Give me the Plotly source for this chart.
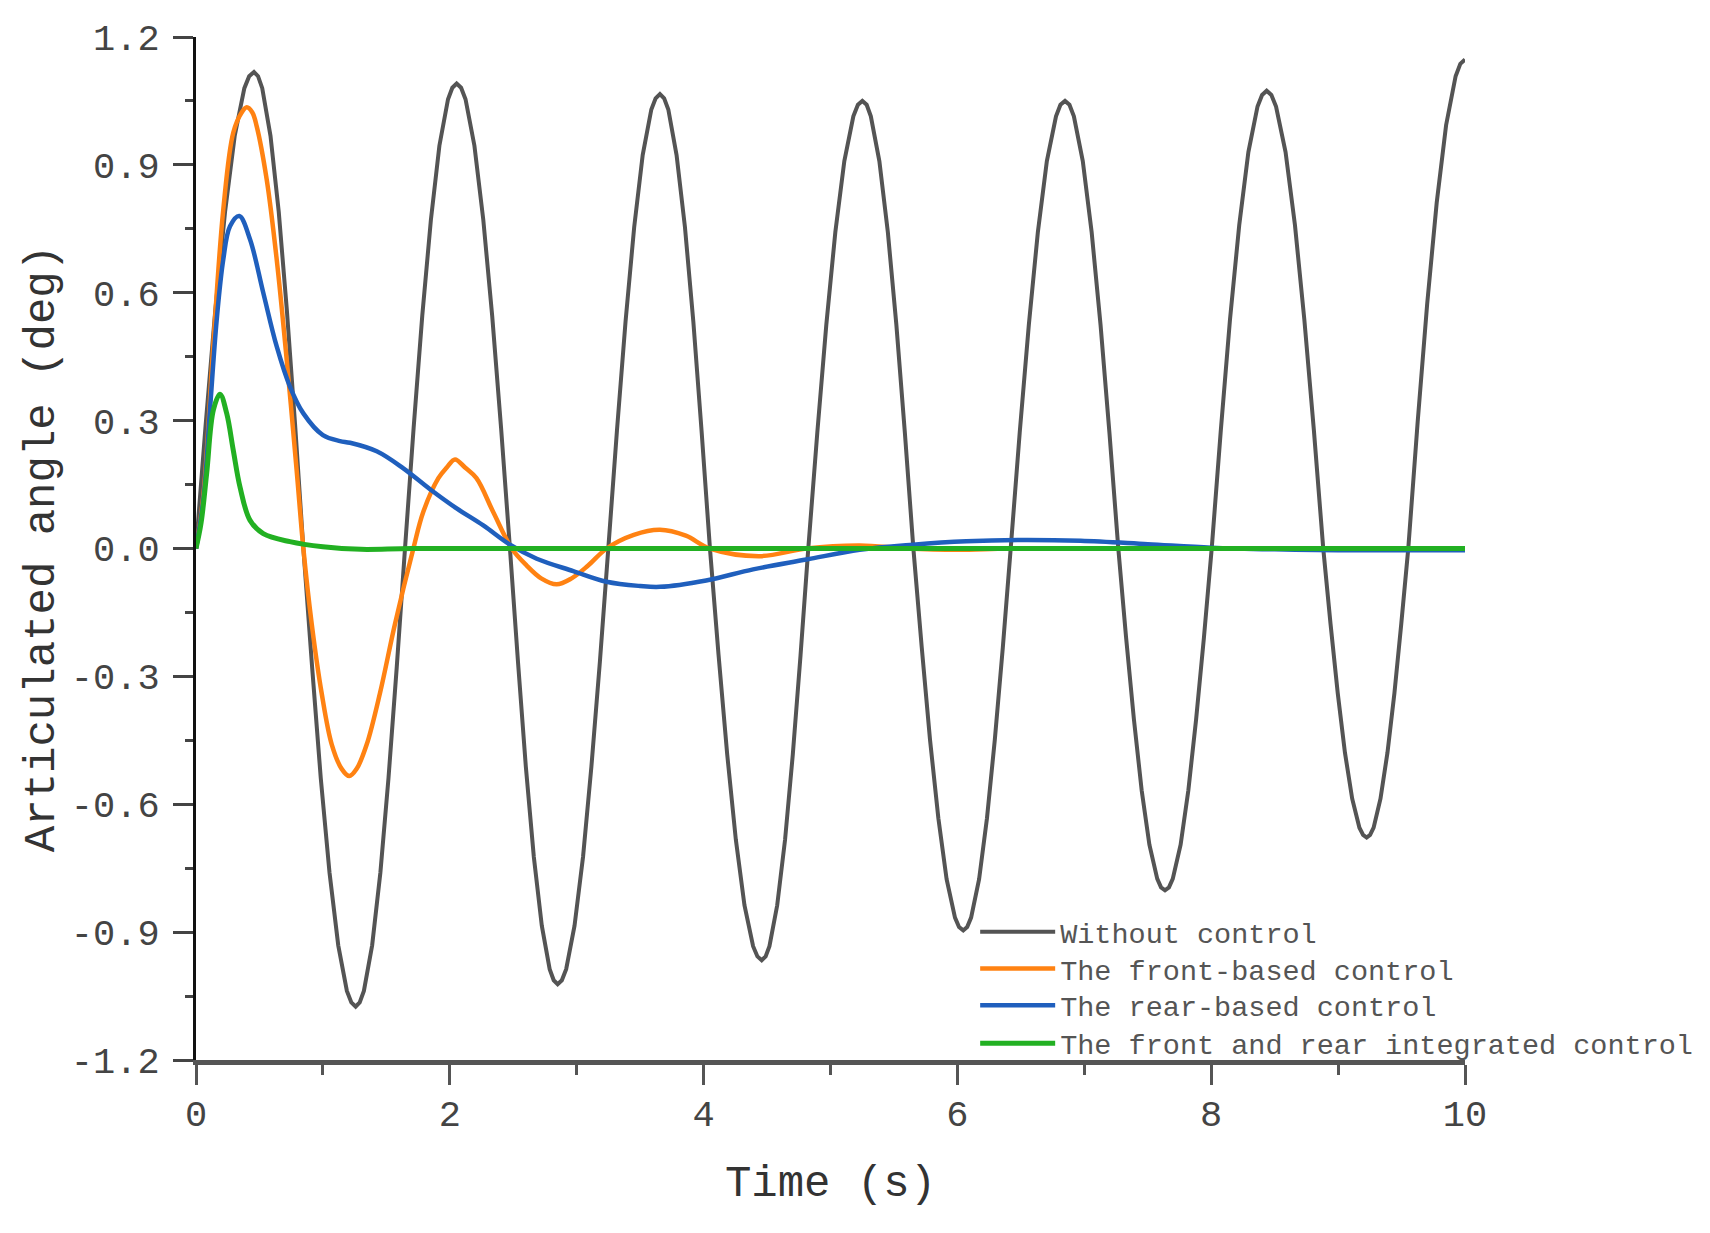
import plotly.graph_objects as go

# Time (s) and articulated angle (deg)
t_without = [0.000, 0.076, 0.152, 0.229, 0.305, 0.381, 0.419, 0.457, 0.489,
             0.522, 0.587, 0.652, 0.716, 0.781, 0.846,
             0.915, 0.983, 1.052, 1.121, 1.189, 1.224, 1.258, 1.290,
             1.323, 1.388, 1.453, 1.517, 1.582, 1.647,
             1.715, 1.783, 1.851, 1.918, 1.986, 2.020, 2.054, 2.089,
             2.124, 2.194, 2.264, 2.334, 2.404, 2.474,
             2.537, 2.599, 2.662, 2.725, 2.787, 2.819, 2.850, 2.883,
             2.917, 2.983, 3.050, 3.116, 3.183, 3.249,
             3.317, 3.385, 3.453, 3.520, 3.588, 3.622, 3.656, 3.689,
             3.722, 3.787, 3.853, 3.919, 3.984, 4.050,
             4.118, 4.186, 4.254, 4.322, 4.390, 4.424, 4.458, 4.489,
             4.519, 4.580, 4.642, 4.703, 4.764, 4.825,
             4.896, 4.967, 5.038, 5.109, 5.180, 5.216, 5.251, 5.285,
             5.318, 5.385, 5.452, 5.519, 5.586, 5.653,
             5.719, 5.784, 5.850, 5.915, 5.981, 6.013, 6.046, 6.077,
             6.108, 6.171, 6.233, 6.295, 6.358, 6.420,
             6.491, 6.563, 6.634, 6.705, 6.777, 6.812, 6.848, 6.883,
             6.918, 6.988, 7.058, 7.128, 7.198, 7.268,
             7.329, 7.391, 7.452, 7.513, 7.575, 7.605, 7.636, 7.667,
             7.697, 7.759, 7.820, 7.881, 7.943, 8.004,
             8.076, 8.148, 8.221, 8.293, 8.365, 8.401, 8.437, 8.474,
             8.511, 8.586, 8.660, 8.734, 8.809, 8.883,
             8.940, 8.997, 9.054, 9.111, 9.168, 9.197, 9.225, 9.252,
             9.280, 9.334, 9.389, 9.444, 9.498, 9.553,
             9.627, 9.702, 9.777, 9.851, 9.926, 9.963, 10.000]
y_without = [0.000, 0.290, 0.559, 0.790, 0.968, 1.080, 1.108, 1.118, 1.108,
             1.080, 0.968, 0.790, 0.559, 0.290, 0.000,
             -0.278, -0.538, -0.760, -0.931, -1.038, -1.065, -1.075, -1.065,
             -1.038, -0.931, -0.760, -0.538, -0.278, 0.000,
             0.283, 0.546, 0.771, 0.945, 1.054, 1.081, 1.091, 1.081,
             1.054, 0.945, 0.771, 0.546, 0.283, 0.000,
             -0.265, -0.511, -0.723, -0.885, -0.987, -1.013, -1.022, -1.013,
             -0.987, -0.885, -0.723, -0.511, -0.265, 0.000,
             0.276, 0.533, 0.754, 0.923, 1.030, 1.056, 1.066, 1.056,
             1.030, 0.923, 0.754, 0.533, 0.276, 0.000,
             -0.250, -0.483, -0.683, -0.837, -0.933, -0.957, -0.966, -0.957,
             -0.933, -0.837, -0.683, -0.483, -0.250, 0.000,
             0.272, 0.525, 0.742, 0.909, 1.014, 1.041, 1.050, 1.041,
             1.014, 0.909, 0.742, 0.525, 0.272, 0.000,
             -0.232, -0.448, -0.633, -0.776, -0.866, -0.888, -0.896, -0.888,
             -0.866, -0.776, -0.633, -0.448, -0.232, 0.000,
             0.272, 0.525, 0.742, 0.909, 1.014, 1.041, 1.050, 1.041,
             1.014, 0.909, 0.742, 0.525, 0.272, 0.000,
             -0.208, -0.401, -0.567, -0.695, -0.775, -0.795, -0.802, -0.795,
             -0.775, -0.695, -0.567, -0.401, -0.208, 0.000,
             0.278, 0.537, 0.759, 0.930, 1.037, 1.064, 1.074, 1.064,
             1.037, 0.930, 0.759, 0.537, 0.278, 0.000,
             -0.176, -0.339, -0.479, -0.587, -0.655, -0.672, -0.678, -0.672,
             -0.655, -0.587, -0.479, -0.339, -0.176, 0.000,
             0.297, 0.574, 0.811, 0.993, 1.108, 1.137, 1.147]

t_front = [0.000, 0.060, 0.137, 0.215, 0.294, 0.360, 0.400, 0.444, 0.478, 0.557,
           0.636, 0.715, 0.793, 0.846, 0.912, 0.990, 1.070, 1.148, 1.208, 1.266,
           1.345, 1.450, 1.568, 1.713, 1.790, 1.910, 1.976, 2.041, 2.120, 2.210,
           2.343, 2.488, 2.606, 2.720, 2.842, 2.960, 3.090, 3.236, 3.450, 3.656,
           3.860, 4.050, 4.440, 4.810, 5.230, 5.600, 6.000, 6.400, 7.000, 8.000,
           9.000, 10.000]
y_front = [0.000, 0.130, 0.482, 0.795, 0.976, 1.023, 1.035, 1.023, 0.991, 0.866,
           0.678, 0.442, 0.184, 0.000, -0.177, -0.339, -0.460, -0.517, -0.534, -0.517,
           -0.460, -0.339, -0.177, 0.000, 0.085, 0.165, 0.190, 0.209, 0.190, 0.165,
           0.085, 0.000, -0.040, -0.070, -0.084, -0.070, -0.040, 0.000, 0.032, 0.044,
           0.030, 0.000, -0.018, 0.000, 0.007, 0.000, -0.003, 0.000, 0.000, 0.000,
           0.000, 0.000]

t_rear = [0.000, 0.060, 0.110, 0.163, 0.215, 0.268, 0.341, 0.426, 0.530, 0.636,
          0.740, 0.846, 1.000, 1.135, 1.214, 1.424, 1.634, 1.844, 2.054, 2.264,
          2.474, 2.685, 2.973, 3.236, 3.500, 3.656, 4.020, 4.390, 4.810, 5.230,
          5.650, 6.070, 6.490, 6.970, 7.500, 8.000, 8.500, 9.000, 10.000]
y_rear = [0.000, 0.120, 0.325, 0.536, 0.678, 0.756, 0.780, 0.725, 0.600, 0.474,
          0.380, 0.317, 0.266, 0.252, 0.248, 0.228, 0.188, 0.139, 0.094, 0.054,
          0.009, -0.024, -0.053, -0.078, -0.088, -0.090, -0.075, -0.049, -0.026, -0.003,
          0.009, 0.017, 0.020, 0.018, 0.010, 0.002, -0.002, -0.004, -0.004]

t_integrated = [0.000, 0.040, 0.084, 0.137, 0.189, 0.242, 0.294, 0.347, 0.426, 0.530,
                0.740, 1.000, 1.300, 1.700, 3.000, 5.000, 7.000, 10.000]
y_integrated = [0.000, 0.060, 0.176, 0.325, 0.362, 0.317, 0.230, 0.144, 0.066, 0.035,
                0.016, 0.004, -0.002, 0.000, 0.000, 0.000, 0.000, 0.000]

names = ["Without control", "The front-based control",
         "The rear-based control", "The front and rear integrated control"]
colors = ["#545454", "#ff8212", "#1f5fbd", "#22b022"]

ytick_vals = [-1.2, -0.9, -0.6, -0.3, 0.0, 0.3, 0.6, 0.9, 1.2]
ytick_text = ["-1.2", "-0.9", "-0.6", "-0.3", "0.0", "0.3", "0.6", "0.9", "1.2"]
xtick_vals = [0, 2, 4, 6, 8, 10]

# the dense black series is drawn straight, the sparser ones smoothed
series = [(t_without, y_without, 4, "linear"),
          (t_front, y_front, 4.5, "spline"),
          (t_rear, y_rear, 4.5, "spline"),
          (t_integrated, y_integrated, 5, "spline")]

font_main = "Liberation Mono"
legend_ids = ["legend", "legend2", "legend3", "legend4"]
legend_rows = [0.125, 0.089, 0.053, 0.016]

fig = go.Figure()
for (tx, vy, w, shp), name, col, lid in zip(series, names, colors, legend_ids):
    fig.add_trace(go.Scatter(x=tx, y=vy, mode="lines", name=name, legend=lid,
                             line=dict(color=col, width=w, shape=shp, simplify=False)))

# page body adds 8px offset, margins compensate for it
fig.update_layout(
    width=1710, height=1233,
    paper_bgcolor="white", plot_bgcolor="white",
    margin=dict(l=188, r=253, t=29, b=181),
    showlegend=True,
)
for lid, ry in zip(legend_ids, legend_rows):
    fig.update_layout({lid: dict(x=0.614, y=ry, xanchor="left", yanchor="middle",
                                 bgcolor="rgba(0,0,0,0)", itemwidth=75,
                                 font=dict(family=font_main, size=28.5, color="#555555"))})

fig.update_xaxes(range=[0, 10], tickvals=xtick_vals, automargin=False,
                 showline=True, linecolor="#555555", linewidth=5,
                 ticks="outside", ticklen=20, tickwidth=3, tickcolor="#555555",
                 minor=dict(dtick=1, ticks="outside", ticklen=10, tickwidth=3, tickcolor="#555555"),
                 showgrid=False, zeroline=False, ticklabelstandoff=-3,
                 tickfont=dict(family=font_main, size=37, color="#444444"),
                 title=dict(text="Time (s)", standoff=30,
                            font=dict(family=font_main, size=44, color="#333333")))

fig.update_yaxes(range=[-1.2, 1.2], tickvals=ytick_vals, ticktext=ytick_text, automargin=False,
                 showline=True, linecolor="#111111", linewidth=3,
                 ticks="outside", ticklen=20, tickwidth=3, tickcolor="#444444",
                 minor=dict(dtick=0.15, ticks="outside", ticklen=8, tickwidth=3, tickcolor="#444444"),
                 showgrid=False, zeroline=False, ticklabelstandoff=6,
                 tickfont=dict(family=font_main, size=37, color="#444444"),
                 title=dict(text="Articulated angle (deg)", standoff=3,
                            font=dict(family=font_main, size=44, color="#333333")))

fig.write_html("out.html")
